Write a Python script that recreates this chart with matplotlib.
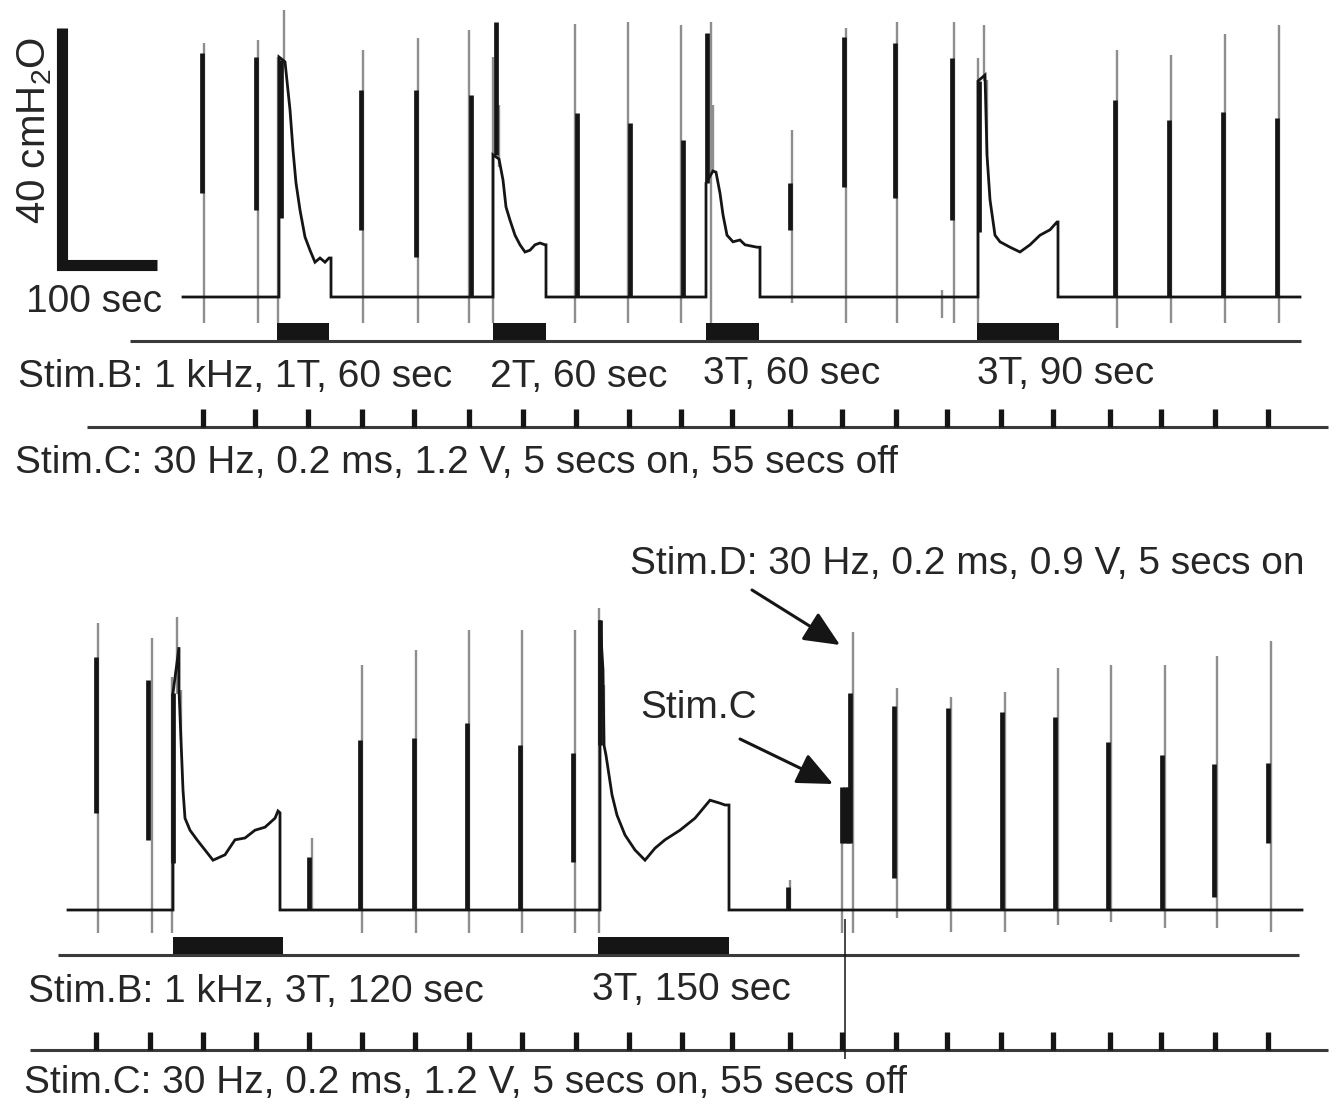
import numpy as np
import matplotlib
matplotlib.use("Agg")
import matplotlib.pyplot as plt

plt.rcParams['font.family'] = ['Liberation Sans', 'DejaVu Sans']
plt.rcParams['mathtext.default'] = 'regular'

# ---------------------------------------------------------------
# Data: time in s, pressure in cmH2O (0 = baseline)
# ---------------------------------------------------------------
# --- upper recording ---
top_t_start, top_t_end = 0, 1117

# bladder pressure during Stim.B blocks (onset rise, decay, offset drop)
top_plateau_t = [
    [96, 96, 102, 107, 110, 113, 117, 122, 127, 132, 137, 142, 146, 148, 148],
    [310, 310, 316, 320, 323, 327, 332, 337, 342, 347, 352, 357, 362, 363, 363],
    [523, 523, 530, 533, 537, 540, 544, 550, 557, 562, 574, 577, 577],
    [795, 795, 802, 804, 807, 812, 817, 827, 837, 847, 857, 867, 874, 875, 875],
]
top_plateau_p = [
    [0, 40, 39.2, 31.2, 24.5, 19, 14.5, 10, 7.8, 5.8, 6.5, 5.8, 6.5, 6.5, 0],
    [0, 23.7, 23, 19.5, 15, 12.8, 10.3, 8.7, 7.5, 7.8, 8.7, 9, 8.7, 8.7, 0],
    [0, 19, 21, 20.8, 17.3, 13.7, 10.3, 9.2, 9.5, 8.7, 8.3, 8.3, 0],
    [0, 36, 37, 23.7, 16.2, 10.3, 9.2, 8.3, 7.5, 8.7, 10.3, 11.2, 12.5, 12.5, 0],
]

# bladder contractions (black)
top_con_t = [19, 73, 98, 178, 233, 288, 313, 394, 447, 500, 524, 607, 661, 712, 769, 796,
             932, 986, 1040, 1094]
top_con_lo = [17.3, 14.5, 13.2, 11.2, 6.7, 0, 23.7, 0, 0, 0, 19, 11.2, 18.3, 16.5, 12.8, 10.8,
              0, 0, 0, 0]
top_con_hi = [40.7, 40.0, 39.5, 34.5, 34.5, 33.7, 45.8, 30.7, 29.0, 26.2, 44, 19.0, 43.3, 42.3,
              39.8, 36, 32.8, 29.5, 30.8, 29.8]

# stimulation artefacts (grey)
top_art_t = [21, 75, 95, 101, 180, 235, 286, 310, 316, 392, 445, 498, 528, 530, 609, 663, 714,
             759, 771, 795, 801, 804, 934, 988, 1042, 1096]
top_art_lo = [-4.3, -4.3, -4.3, 39, -4.3, -4.3, -4.3, -4.3, 21.7, -4.3, -4.3, -4.3, -4.3, 21,
              -1, -4.3, -4.3, -3.5, -4.3, -4.3, 36, 23.7, -5.2, -4.3, -4.3, -4.3]
top_art_hi = [42.3, 42.8, 40, 47.8, 41.2, 43.2, 44.5, 40, 32, 45.5, 45.8, 45.3, 45.8, 32, 27.8,
              44.8, 45.8, 1.2, 45.8, 39.8, 45.3, 36.2, 41.2, 40.3, 43.8, 45.3]

top_stimB_on = [94, 310, 523, 794]
top_stimB_off = [146, 363, 576, 876]
top_stimC_t = [20, 72, 125, 179, 231, 286, 340, 393, 446, 498, 549, 607, 659, 713, 764, 818,
               870, 927, 978, 1032, 1085]

# --- lower recording ---
bot_t_start, bot_t_end = 0, 1234

bot_plateau_t = [
    [105, 105, 111, 111, 113, 115, 117, 122, 129, 137, 145, 157, 167, 177, 187, 197, 207, 210,
     212, 212],
    [532, 532, 535, 536, 538, 544, 549, 557, 567, 577, 587, 597, 612, 627, 642, 652, 657, 661,
     661],
]
bot_plateau_p = [
    [0, 36.2, 43.8, 36.7, 28.3, 20, 15.3, 13.3, 11.7, 10, 8.3, 9.2, 11.7, 12, 13.3, 13.8, 15.3,
     16.5, 16.2, 0],
    [0, 48.3, 40, 27.5, 25.8, 19.2, 15.8, 12.5, 10, 8.3, 10.3, 11.7, 13.3, 15.3, 18.3, 17.8,
     17.5, 17.5, 0],
]

bot_con_t = [28, 80, 105, 241, 292, 346, 399, 452, 505, 532, 720, 774, 777, 780, 782, 826, 880,
             934, 987, 1040, 1094, 1146, 1200]
bot_con_lo = [16.2, 11.7, 7.8, 0, 0, 0, 0, 0, 8, 27.5, 0, 11.2, 11.2, 11.2, 11.2, 5.3, 0, 0, 0,
              0, 0, 2.2, 11.2]
bot_con_hi = [42.2, 38.3, 36.2, 8.8, 28.3, 28.7, 31.2, 27.5, 26.2, 48.3, 3.8, 20.5, 20.5, 20.5,
              36.2, 34, 33.7, 33, 32.2, 28, 25.8, 24.3, 24.5]

bot_art_t = [30, 84, 104, 109, 113, 244, 294, 348, 401, 454, 507, 531, 536, 722, 774, 785, 829,
             883, 937, 990, 1043, 1097, 1149, 1203]
bot_art_lo = [-3.8, -3.8, -3.8, 36, 28.3, 0, -3.8, -3.8, -3.8, -3.8, -3.8, -3.8, 27.5, 0, -3.8,
              -3.8, -1.3, -3.7, -3.7, -2.5, -2, -3, -3, -3.7]
bot_art_hi = [47.8, 45.3, 38.8, 48.8, 36.7, 12, 40.8, 43.3, 46.7, 46.7, 46.7, 50.3, 37.5, 5,
              11.2, 46.3, 37, 35.5, 36.3, 40.3, 40.8, 40.8, 42.3, 44.8]

bot_stimB_on = [105, 530]
bot_stimB_off = [215, 661]
bot_stimC_t = [28, 82, 135, 188, 241, 294, 347, 401, 454, 508, 561, 614, 664, 722, 774, 828,
               879, 933, 985, 1042, 1093, 1147, 1200]
stimD_t = 777

# ---------------------------------------------------------------
W, H = 1337, 1106
INK = '#151515'
GREY = '#8e8e8e'
TXT = '#262626'
FS = 28


def fxy(x, y):
    # figure pixel (from top-left) -> figure fraction
    return x / W, 1 - y / H


def draw_panel(ax, t0, t1, pl_t, pl_p, c_t, c_lo, c_hi, a_t, a_lo, a_hi,
               b_on, b_off, c_ticks, rowB, b_span, rowC, c_span, art_low):
    xs, ys = [t0], [0]
    for pt, pp in zip(pl_t, pl_p):
        xs += pt
        ys += pp
    xs.append(t1)
    ys.append(0)

    ax.vlines(a_t, a_lo, a_hi, color=GREY, lw=1.7, zorder=1)
    ax.plot(xs, ys, color=INK, lw=2.0, zorder=2, solid_joinstyle='miter')
    ax.vlines(c_t, c_lo, c_hi, color=INK, lw=3.4, zorder=3)

    # Stim.B row
    ax.hlines(rowB, b_span[0], b_span[1], color='#3a3a3a', lw=2.2)
    on = np.array(b_on)
    off = np.array(b_off)
    ax.bar(on, art_low - rowB, width=off - on, bottom=rowB, align='edge', color=INK, lw=0)

    # Stim.C row
    ax.hlines(rowC, c_span[0], c_span[1], color='#3a3a3a', lw=2.2)
    ax.vlines(c_ticks, rowC, rowC + 3.0, color=INK, lw=3.8)


fig = plt.figure(figsize=(W / 100, H / 100), dpi=100)
ax_top = fig.add_axes([0, 0.5, 1, 0.5])
ax_bot = fig.add_axes([0, 0.0, 1, 0.5])

# upper panel: baseline at y=297 px, 6 px per cmH2O, 1 px per s
ax_top.set_xlim(-183, W - 183)
ax_top.set_ylim((297 - 553) / 6, 297 / 6)
ax_bot.set_xlim(-68, W - 68)
ax_bot.set_ylim((910 - 1106) / 6, (910 - 553) / 6)
for ax in (ax_top, ax_bot):
    ax.axis('off')

draw_panel(ax_top, top_t_start, top_t_end, top_plateau_t, top_plateau_p,
           top_con_t, top_con_lo, top_con_hi, top_art_t, top_art_lo, top_art_hi,
           top_stimB_on, top_stimB_off, top_stimC_t,
           rowB=-7.4, b_span=(-53, 1118), rowC=-21.7, c_span=(-96, 1145), art_low=-4.3)
draw_panel(ax_bot, bot_t_start, bot_t_end, bot_plateau_t, bot_plateau_p,
           bot_con_t, bot_con_lo, bot_con_hi, bot_art_t, bot_art_lo, bot_art_hi,
           bot_stimB_on, bot_stimB_off, bot_stimC_t,
           rowB=-7.5, b_span=(-10, 1231), rowC=-23.3, c_span=(-38, 1260), art_low=-4.5)

# Stim.D marker line through the stimulus rows
ax_bot.vlines(stimD_t, -24.8, -1.5, color=INK, lw=1.1)

# scale bar: 40 cmH2O, 100 sec
ax_top.plot([-121, -121, -26], [44.8, 5.3, 5.3], color=INK, lw=8,
            solid_joinstyle='miter', solid_capstyle='butt')

# ---------------------------------------------------------------
# labels
# ---------------------------------------------------------------
fig.text(*fxy(35, 130), '40 cmH$_2$O', rotation=90, fontsize=29, color=TXT,
         ha='center', va='center')
fig.text(*fxy(26, 302), '100 sec', fontsize=FS, color=TXT, ha='left', va='center')

fig.text(*fxy(18, 377), 'Stim.B: 1 kHz, 1T, 60 sec', fontsize=FS, color=TXT, va='center')
fig.text(*fxy(490, 377), '2T, 60 sec', fontsize=FS, color=TXT, va='center')
fig.text(*fxy(703, 374), '3T, 60 sec', fontsize=FS, color=TXT, va='center')
fig.text(*fxy(977, 374), '3T, 90 sec', fontsize=FS, color=TXT, va='center')
fig.text(*fxy(15, 463), 'Stim.C: 30 Hz, 0.2 ms, 1.2 V, 5 secs on, 55 secs off',
         fontsize=FS, color=TXT, va='center')

fig.text(*fxy(630, 564), 'Stim.D: 30 Hz, 0.2 ms, 0.9 V, 5 secs on', fontsize=FS,
         color=TXT, va='center')
fig.text(*fxy(640, 708), 'Stim.C', fontsize=FS, color=TXT, va='center')
fig.text(*fxy(28, 992), 'Stim.B: 1 kHz, 3T, 120 sec', fontsize=FS, color=TXT, va='center')
fig.text(*fxy(592, 990), '3T, 150 sec', fontsize=FS, color=TXT, va='center')
fig.text(*fxy(24, 1083), 'Stim.C: 30 Hz, 0.2 ms, 1.2 V, 5 secs on, 55 secs off',
         fontsize=FS, color=TXT, va='center')

arrow = dict(arrowstyle='-|>,head_length=1.0,head_width=0.45', lw=2.2, color=INK,
             mutation_scale=22, shrinkA=0, shrinkB=0)
ax_bot.annotate('', xy=fxy(840, 645), xytext=fxy(752, 590),
                xycoords='figure fraction', textcoords='figure fraction', arrowprops=arrow)
ax_bot.annotate('', xy=fxy(833, 784), xytext=fxy(740, 739),
                xycoords='figure fraction', textcoords='figure fraction', arrowprops=arrow)

fig.savefig('out.png', dpi=100, facecolor='white')
